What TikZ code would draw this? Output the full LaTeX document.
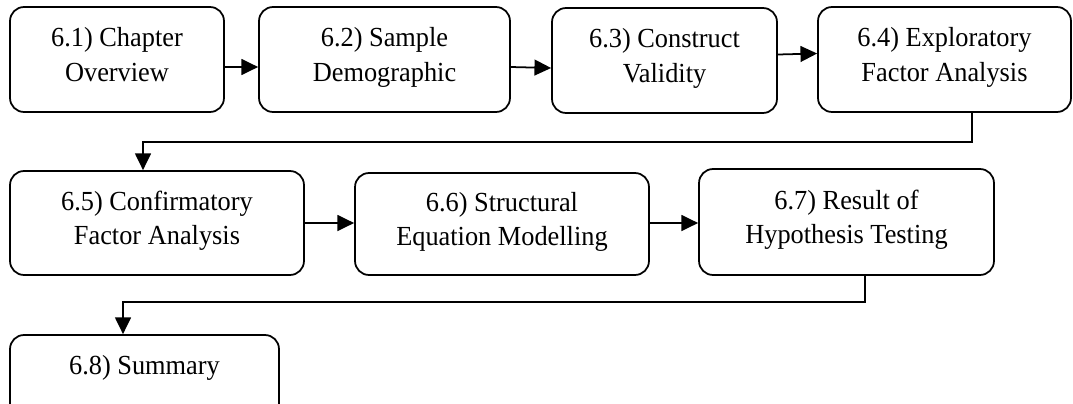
\documentclass[tikz,border=0pt]{standalone}
\usepackage{fontspec}
\setmainfont{Liberation Serif}
\newfontfamily\stagefont{Liberation Serif}[FakeStretch=0.955]
\usepackage{xcolor}
\usetikzlibrary{shapes,arrows,arrows.meta,positioning}

\tikzset{
    stage/.style={draw, line width=1pt, rounded corners=0.28cm, inner sep=0pt,
        align=center, font=\stagefont\fontsize{15.7}{19.6}\selectfont,
        execute at begin node=\strut, execute at end node=\strut},
    link/.style={line width=1pt, -{Triangle[length=9.5pt,width=9pt]}}
}

\begin{document}
\begin{tikzpicture}[x=0.02cm, y=-0.02cm]
    \useasboundingbox (0,0) rectangle (1073,403);

    % First row
    \node[stage, minimum width=4.28cm, minimum height=2.1cm] (overview) at (117,59.5) {6.1) Chapter\\Overview};
    \node[stage, minimum width=5.02cm, minimum height=2.1cm] (demo) at (384.5,59.5) {6.2) Sample\\Demographic};
    \node[stage, minimum width=4.5cm, minimum height=2.1cm] (validity) at (664.5,60.5) {6.3) Construct\\Validity};
    \node[stage, minimum width=5.06cm, minimum height=2.1cm] (efa) at (944.5,59.5) {6.4) Exploratory\\Factor Analysis};

    \draw[link] ([yshift=-0.15cm]overview.east) -- ([yshift=-0.15cm]demo.west);
    \draw[link] ([yshift=-0.15cm]demo.east) -- ([yshift=-0.15cm]validity.west);
    \draw[link] ([yshift=0.12cm]validity.east) -- ([yshift=0.12cm]efa.west);

    % Second row
    \node[stage, minimum width=5.88cm, minimum height=2.08cm] (cfa) at (157,223) {6.5) Confirmatory\\Factor Analysis};
    \node[stage, minimum width=5.88cm, minimum height=2.04cm] (sem) at (502,224) {6.6) Structural\\Equation Modelling};
    \node[stage, minimum width=5.9cm, minimum height=2.12cm] (hypo) at (846.5,222) {6.7) Result of\\Hypothesis Testing};

    \draw[link] ([xshift=0.55cm]efa.south) -- ++(0,29) -| ([xshift=-0.28cm]cfa.north);
    \draw[link] (cfa.east |- 0,223) -- (sem.west |- 0,223);
    \draw[link] (sem.east |- 0,223) -- (hypo.west |- 0,223);

    % Last row
    \node[stage, minimum width=5.38cm, minimum height=2.08cm] (summary) at (144.5,387) {6.8) Summary\\};

    \draw[link] ([xshift=0.37cm]hypo.south) -- ++(0,26) -| ([xshift=-0.43cm]summary.north);
\end{tikzpicture}
\end{document}
